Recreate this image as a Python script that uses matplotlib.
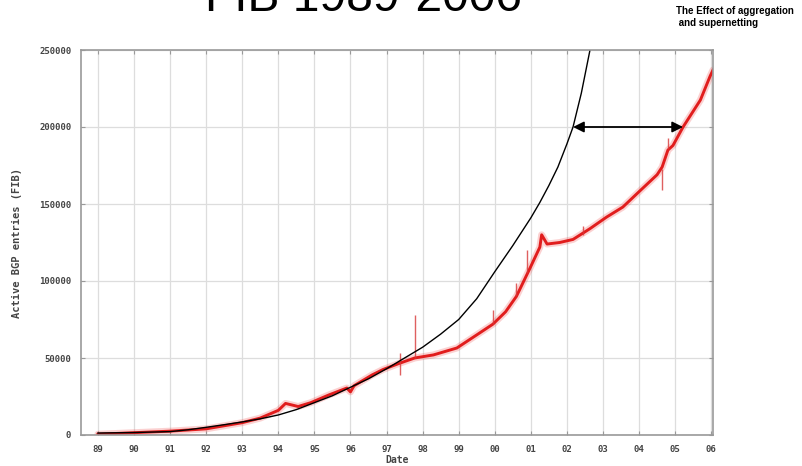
import matplotlib
matplotlib.use("Agg")
import matplotlib.pyplot as plt
from matplotlib import font_manager

red_years = [1989.0, 1990.0, 1991.0, 1992.0, 1993.0, 1993.5, 1994.0, 1994.2, 1994.55,
             1994.9, 1995.4, 1995.9, 1996.0, 1996.1, 1996.6, 1996.9, 1997.35, 1997.78,
             1998.3, 1998.95, 1999.5, 1999.95, 2000.3, 2000.6, 2000.97, 2001.25, 2001.3,
             2001.45, 2001.8, 2002.17, 2002.64, 2003.1, 2003.55, 2004.0, 2004.5,
             2004.64, 2004.8, 2004.94, 2005.22, 2005.7, 2005.97, 2006.05]
red_vals = [500, 1500, 2500, 4000, 8000, 11000, 16000, 20500, 18500,
            21000, 26000, 30500, 28000, 32000, 39000, 42500, 46500, 50000,
            52000, 56500, 65000, 72000, 80000, 90000, 108000, 122000, 130000,
            124000, 125000, 127000, 134000, 141500, 148000, 158000, 169000,
            174000, 185000, 188000, 200000, 217500, 233000, 237000]

# short spikes in the measured series
spike_years = [1997.36, 1997.78, 1999.95, 2000.6, 2000.9, 2002.44, 2004.64, 2004.8]
spike_low = [39000, 50000, 72000, 90000, 105000, 130000, 159000, 186000]
spike_high = [53000, 78000, 81000, 99000, 120000, 136000, 173000, 193000]

black_years = [1989, 1990, 1991, 1991.5, 1992, 1992.5, 1993, 1993.5, 1994, 1994.5,
               1995, 1995.5, 1996, 1996.5, 1997, 1997.5, 1998, 1998.5, 1999, 1999.5,
               2000, 2000.5, 2001, 2001.25, 2001.5, 2001.75, 2002, 2002.17, 2002.4,
               2002.64, 2002.85]
black_vals = [1300, 1600, 2200, 3400, 5000, 6700, 8500, 10500, 13000, 16500,
              21000, 25500, 31000, 36500, 43000, 50000, 57000, 65500, 75000, 88500,
              106000, 123000, 141000, 151000, 162000, 174000, 189000, 200000, 222000,
              250000, 280000]

tick_years = list(range(1989, 2007))
tick_labels = ['%02d' % (y % 100) for y in tick_years]
y_ticks = [0, 50000, 100000, 150000, 200000, 250000]

# arrow between the two curves at 200000 entries
arrow_y = 200000
arrow_x0 = 2002.17
arrow_x1 = 2005.22

fonts = {f.name for f in font_manager.fontManager.ttflist}
if 'Liberation Sans Narrow' in fonts:
    note_font, note_size = 'Liberation Sans Narrow', 8.6
else:
    note_font, note_size = 'Liberation Sans', 7.0

fig = plt.figure(figsize=(8.03, 4.66), dpi=100)
ax = fig.add_axes([81/803, 1-435/466, (713-81)/803, (435-50)/466])

ax.plot(red_years, red_vals, color='#ee3030', lw=5, alpha=0.22, solid_capstyle='round')
ax.plot(red_years, red_vals, color='#e11d1d', lw=2.1)
ax.vlines(spike_years, spike_low, spike_high, color='#d83838', lw=1.0, alpha=0.8)
ax.plot(black_years, black_vals, color='black', lw=1.0)

ax.annotate('', xy=(arrow_x0, arrow_y), xytext=(arrow_x1, arrow_y),
            arrowprops=dict(arrowstyle='<|-|>', color='black', lw=1.3,
                            mutation_scale=16, shrinkA=0, shrinkB=0))

ax.set_xlim(1988.53, 2006.05)
ax.set_ylim(0, 250000)
ax.set_xticks(tick_years)
ax.set_xticklabels(tick_labels)
ax.set_yticks(y_ticks)
ax.set_yticklabels([str(v) for v in y_ticks])
ax.grid(True, color='#dddddd', lw=0.9)
ax.tick_params(direction='in', length=3, color='#999999', top=True, right=True,
               labelsize=6.5, labelcolor='#444444', pad=7)
for lab in ax.get_xticklabels() + ax.get_yticklabels():
    lab.set_family('DejaVu Sans Mono')
    lab.set_weight('bold')
for s in ax.spines.values():
    s.set_color('#999999')
    s.set_linewidth(1.2)

ax.set_xlabel('Date', family='DejaVu Sans Mono', fontsize=7, weight='bold',
              color='#444444', labelpad=1)
ax.set_ylabel('Active BGP entries (FIB)', family='DejaVu Sans Mono', fontsize=7.5,
              weight='bold', color='#444444', labelpad=12)

fig.text(364/803, 1-11/466, 'FIB 1989-2006', ha='center', va='baseline',
         fontsize=34.6, family='Liberation Sans')
fig.text(676/803, 1-6/466, 'The Effect of aggregation\n and supernetting', ha='left',
         va='top', fontsize=note_size, family=note_font, weight='bold', linespacing=1.25)

fig.savefig('out.png', dpi=100)
